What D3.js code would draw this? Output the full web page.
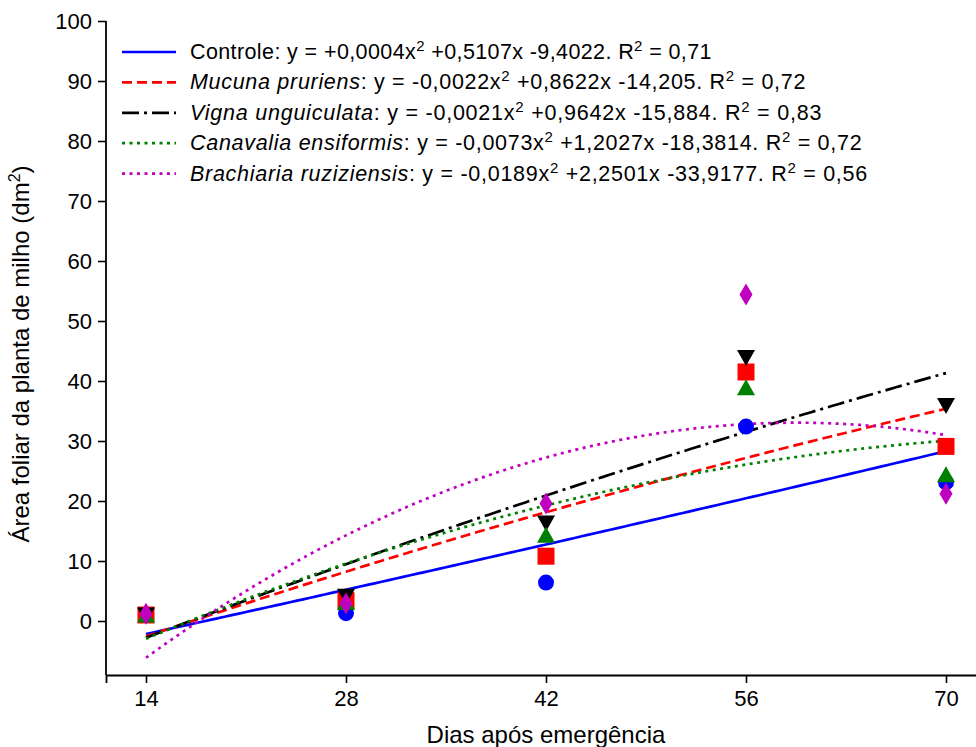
<!DOCTYPE html>
<html>
<head>
<meta charset="utf-8">
<script src="https://cdn.jsdelivr.net/npm/d3@7"></script>
<style>
  html, body { margin: 0; padding: 0; background: #fff; }
  svg { display: block; font-family: "Liberation Sans", Arial, sans-serif; }
</style>
</head>
<body>
<svg id="chart" width="976" height="747"></svg>
<script>
// ---- Data ----
const days = [14, 28, 42, 56, 70];
const seriesNames = ["Controle", "Mucuna pruriens", "Vigna unguiculata", "Canavalia ensiformis", "Brachiaria ruziziensis"];
const italicNames = [false, true, true, true, true];
const controle   = [1.0, 1.3, 6.4, 32.4, 23.1];
const mucuna     = [1.0, 3.4, 10.8, 41.5, 29.1];
const vigna      = [1.1, 4.2, 16.4, 44.0, 36.0];
const canavalia  = [0.9, 3.0, 14.2, 38.8, 24.3];
const brachiaria = [1.2, 2.9, 19.6, 54.4, 21.2];
// fitted quadratic coefficients as printed in the legend: a, b, c (y = a x^2 + b x + c)
const coefA = [0.0004, -0.0022, -0.0021, -0.0073, -0.0189];
const coefB = [0.5107, 0.8622, 0.9642, 1.2027, 2.2501];
const coefC = [-9.4022, -14.205, -15.884, -18.3814, -33.9177];
const coefText = [
  ["+0,0004", "+0,5107", "-9,4022", "0,71"],
  ["-0,0022", "+0,8622", "-14,205", "0,72"],
  ["-0,0021", "+0,9642", "-15,884", "0,83"],
  ["-0,0073", "+1,2027", "-18,3814", "0,72"],
  ["-0,0189", "+2,2501", "-33,9177", "0,56"]
];
const xTicks = [14, 28, 42, 56, 70];
const yTicks = [0, 10, 20, 30, 40, 50, 60, 70, 80, 90, 100];
const xLabel = "Dias após emergência";
const yLabel = "Área foliar da planta de milho (dm";

// ---- Styles ----
const colors = ["#0000ff", "#ff0000", "#000000", "#008000", "#bf00bf"];
const dashes = [null, "10,5", "17,5,3,5", "3,4.5", "3,4.5"];
const markerTypes = [d3.symbolCircle, d3.symbolSquare, "down", "up", "diamond"];
const allValues = [controle, mucuna, vigna, canavalia, brachiaria];
const legendEnds = [712, 806, 822, 862, 868];

const svg = d3.select("#chart");
const x = d3.scaleLinear().domain([11.2, 72.8]).range([106, 986]);
const y = d3.scaleLinear().domain([-9, 100]).range([675, 21]);

// Axes
const gx = svg.append("g").attr("transform", "translate(0,675)")
  .call(d3.axisBottom(x).tickValues(xTicks).tickSize(8).tickPadding(5).tickFormat(d3.format("d")));
const gy = svg.append("g").attr("transform", "translate(106,0)")
  .call(d3.axisLeft(y).tickValues(yTicks).tickSize(8).tickPadding(6).tickFormat(d3.format("d")));
gy.select(".domain").attr("d", `M0,${y(100)}V675`);
[gx, gy].forEach(g => {
  g.select(".domain").attr("stroke", "#000").attr("stroke-width", 1.8);
  g.selectAll(".tick line").attr("stroke", "#000").attr("stroke-width", 1.6);
  g.selectAll(".tick text").attr("font-size", 22).attr("fill", "#000")
    .attr("font-family", "'Liberation Sans', Arial, sans-serif");
});
gx.selectAll(".tick text").attr("dy", "0.8em");

// Axis labels
svg.append("text").attr("x", x(42)).attr("y", 743).attr("text-anchor", "middle")
  .attr("font-size", 24).text(xLabel);
const yl = svg.append("text").attr("transform", `translate(29,${y(44.5)}) rotate(-90)`)
  .attr("text-anchor", "middle").attr("font-size", 24);
yl.append("tspan").text(yLabel);
yl.append("tspan").attr("dy", -9).attr("font-size", 16).text("2");
yl.append("tspan").attr("dy", 9).text(")");

// Fitted curves
const line = d3.line().x(d => x(d[0])).y(d => y(d[1]));
seriesNames.forEach((name, i) => {
  const pts = d3.range(14, 70.001, 0.5).map(t => [t, coefA[i] * t * t + coefB[i] * t + coefC[i]]);
  svg.append("path").datum(pts).attr("d", line).attr("fill", "none")
    .attr("stroke", colors[i]).attr("stroke-width", 2.7)
    .attr("stroke-dasharray", dashes[i]);
});

// Markers
function markerPath(type) {
  if (type === "up") return "M0,-9L9,7L-9,7Z";
  if (type === "down") return "M0,9L9,-7L-9,-7Z";
  if (type === "diamond") return "M0,-11L6.5,0L0,11L-6.5,0Z";
  if (type === d3.symbolSquare) return "M-8.5,-8.5H8.5V8.5H-8.5Z";
  return d3.symbol().type(type).size(200)();
}
seriesNames.forEach((name, i) => {
  svg.append("g").selectAll("path").data(allValues[i]).join("path")
    .attr("d", markerPath(markerTypes[i]))
    .attr("transform", (d, j) => `translate(${x(days[j])},${y(d)})`)
    .attr("fill", colors[i]);
});

// Legend
const legY0 = 52, legDy = 30.4;
seriesNames.forEach((name, i) => {
  const yy = legY0 + i * legDy;
  svg.append("line").attr("x1", 122).attr("x2", 176).attr("y1", yy).attr("y2", yy)
    .attr("stroke", colors[i]).attr("stroke-width", 2.7).attr("stroke-dasharray", dashes[i]);
  const t = svg.append("text").attr("x", 190).attr("y", yy + 7).attr("font-size", 21.5).attr("fill", "#000");
  t.append("tspan").attr("font-style", italicNames[i] ? "italic" : "normal").text(name);
  t.append("tspan").text(`: y = ${coefText[i][0]}x`);
  t.append("tspan").attr("dy", -8).attr("font-size", 15).text("2");
  t.append("tspan").attr("dy", 8).text(` ${coefText[i][1]}x ${coefText[i][2]}. R`);
  t.append("tspan").attr("dy", -8).attr("font-size", 15).text("2");
  t.append("tspan").attr("dy", 8).text(` = ${coefText[i][3]}`);
  // spread letters so the line ends where the reference line ends
  const w = t.node().getComputedTextLength();
  const n = t.text().length;
  const ls = (legendEnds[i] - 190 - w) / n;
  if (ls > 0) t.attr("letter-spacing", ls.toFixed(2));
});
</script>
</body>
</html>
